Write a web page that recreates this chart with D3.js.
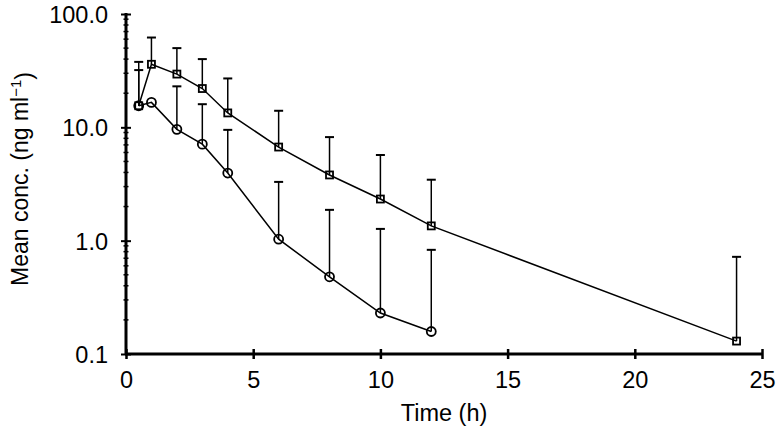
<!DOCTYPE html>
<html>
<head>
<meta charset="utf-8">
<script src="https://cdn.jsdelivr.net/npm/d3@7"></script>
<style>
  body { margin: 0; background: #fff; }
  text { font-family: "Liberation Sans", Arial, Helvetica, sans-serif; fill: #000; }
</style>
</head>
<body>
<div id="chart"></div>
<script>
// sampling times (h)
var timesA = [0.5, 1, 2, 3, 4, 6, 8, 10, 12, 24];
var meanA  = [15.5, 36, 29.5, 22, 13.4, 6.7, 3.8, 2.33, 1.35, 0.13];
var upperA = [37.8, 62, 50, 40, 27, 14, 8.2, 5.7, 3.45, 0.72];

var timesB = [0.5, 1, 2, 3, 4, 6, 8, 10, 12];
var meanB  = [15.5, 16.6, 9.6, 7.1, 3.95, 1.03, 0.48, 0.23, 0.158];
var upperB = [32, null, 23, 16, 9.5, 3.3, 1.87, 1.27, 0.83];

var xTicks = [0, 5, 10, 15, 20, 25];
var yTicks = [0.1, 1, 10, 100];

var margin = {top: 14, right: 14, bottom: 78, left: 126};
var width = 776 - margin.left - margin.right;
var height = 432 - margin.top - margin.bottom;

var svg = d3.select("#chart").append("svg")
  .attr("width", 776).attr("height", 432);

var g = svg.append("g")
  .attr("transform", "translate(" + margin.left + "," + margin.top + ")");

var x = d3.scaleLinear().domain([0, 25]).range([0, width]);
var y = d3.scaleLog().domain([0.1, 100]).range([height, 0]);

// minor ticks on the log axis
var minor = [];
[0.1, 1, 10].forEach(function(d) {
  for (var k = 2; k <= 9; k++) minor.push(d * k);
});

g.append("g").selectAll("line").data(minor).enter().append("line")
  .attr("x1", -2.5).attr("x2", 2.5)
  .attr("y1", function(d) { return y(d); }).attr("y2", function(d) { return y(d); })
  .attr("stroke", "#000").attr("stroke-width", 1.5);

// y axis
var yAxis = g.append("g")
  .call(d3.axisLeft(y).tickValues(yTicks).tickSize(0).tickPadding(18)
    .tickFormat(d3.format(".1f")));
yAxis.select(".domain").remove();
yAxis.selectAll("text").style("font-size", "23.5px").attr("dy", "0.36em");
yAxis.selectAll(".tick").append("line")
  .attr("x1", -5).attr("x2", 5).attr("stroke", "#000").attr("stroke-width", 2);
g.append("line").attr("x1", 0).attr("x2", 0).attr("y1", -1).attr("y2", height + 1)
  .attr("stroke", "#000").attr("stroke-width", 3);

// x axis
var xAxis = g.append("g").attr("transform", "translate(0," + height + ")")
  .call(d3.axisBottom(x).tickValues(xTicks).tickSize(0).tickPadding(17));
xAxis.select(".domain").remove();
xAxis.selectAll("text").style("font-size", "23.5px");
xAxis.selectAll(".tick").append("line")
  .attr("y1", -5).attr("y2", 5).attr("stroke", "#000").attr("stroke-width", 2.5);
g.append("line").attr("x1", -1).attr("x2", width + 1).attr("y1", height).attr("y2", height)
  .attr("stroke", "#000").attr("stroke-width", 3);

// axis labels
svg.append("text")
  .attr("x", margin.left + x(12.5)).attr("y", 421)
  .attr("text-anchor", "middle").style("font-size", "23.5px")
  .text("Time (h)");

var yl = svg.append("text")
  .attr("transform", "translate(28," + (margin.top + height / 2 - 5) + ") rotate(-90)")
  .attr("text-anchor", "middle").style("font-size", "23px");
yl.append("tspan").text("Mean conc. (ng ml");
yl.append("tspan").attr("dy", "-0.45em").style("font-size", "15px").text("\u22121");
yl.append("tspan").attr("dy", "0.45em").text(")");

function drawSeries(times, means, uppers, marker) {
  var pts = times.map(function(t, i) { return {t: t, m: means[i], u: uppers[i]}; });

  // error bars (upper only)
  var eb = g.append("g").selectAll("g").data(pts.filter(function(d) { return d.u != null; }))
    .enter().append("g");
  eb.append("line")
    .attr("x1", function(d) { return x(d.t); }).attr("x2", function(d) { return x(d.t); })
    .attr("y1", function(d) { return y(d.m); }).attr("y2", function(d) { return y(d.u); })
    .attr("stroke", "#000").attr("stroke-width", 1.5);
  eb.append("line")
    .attr("x1", function(d) { return x(d.t) - 4.5; }).attr("x2", function(d) { return x(d.t) + 4.5; })
    .attr("y1", function(d) { return y(d.u); }).attr("y2", function(d) { return y(d.u); })
    .attr("stroke", "#000").attr("stroke-width", 2);

  var line = d3.line().x(function(d) { return x(d.t); }).y(function(d) { return y(d.m); });
  g.append("path").datum(pts).attr("d", line)
    .attr("fill", "none").attr("stroke", "#000").attr("stroke-width", 1.5);

  if (marker === "circle") {
    g.append("g").selectAll("circle").data(pts).enter().append("circle")
      .attr("cx", function(d) { return x(d.t); }).attr("cy", function(d) { return y(d.m); })
      .attr("r", 4.5).attr("fill", "none").attr("stroke", "#000").attr("stroke-width", 1.8);
  } else {
    g.append("g").selectAll("rect").data(pts).enter().append("rect")
      .attr("x", function(d) { return x(d.t) - 3.5; }).attr("y", function(d) { return y(d.m) - 3.5; })
      .attr("width", 7).attr("height", 7)
      .attr("fill", "none").attr("stroke", "#000").attr("stroke-width", 1.8);
  }
}

drawSeries(timesB, meanB, upperB, "circle");
drawSeries(timesA, meanA, upperA, "square");
</script>
</body>
</html>
